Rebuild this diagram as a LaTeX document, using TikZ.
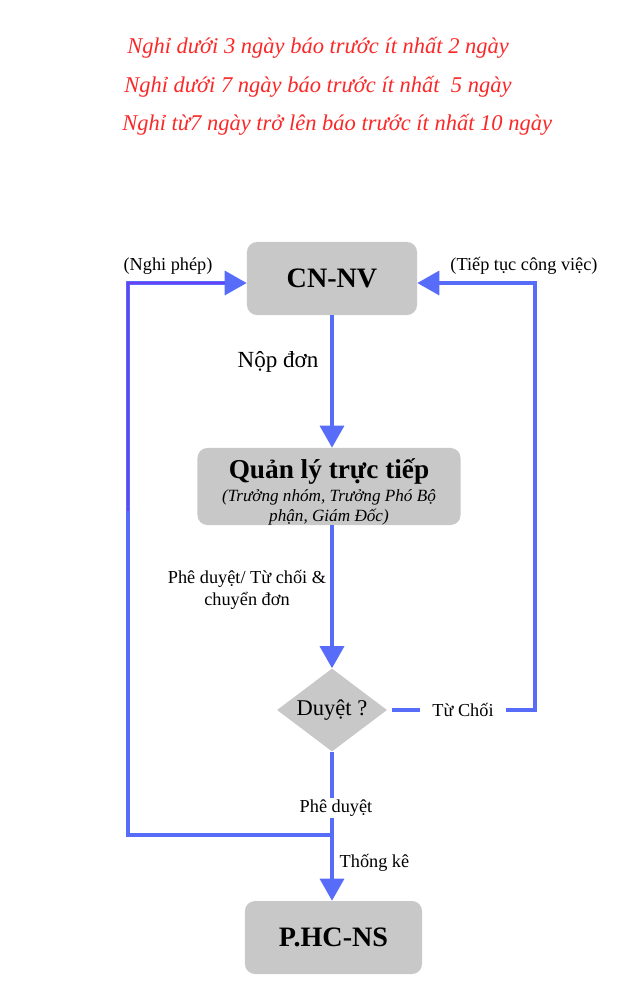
\documentclass[tikz,border=0pt]{standalone}
\usepackage{fontspec}
\setmainfont{Liberation Serif}
\usetikzlibrary{arrows.meta,shapes.geometric}
\definecolor{flowblue}{RGB}{88,108,250}
\definecolor{flowviolet}{RGB}{104,64,246}
\definecolor{boxgray}{RGB}{200,200,200}
\definecolor{notered}{RGB}{250,40,40}
\def\fs#1#2{\fontsize{#1}{#2}\selectfont}
\tikzset{
	box/.style={fill=boxgray, rounded corners=0.25cm, minimum width=4.25cm, minimum height=1.825cm, inner sep=0pt, font=\fs{20pt}{22pt}\bfseries},
	decision/.style={diamond, fill=boxgray, aspect=1.33, minimum width=2.75cm, minimum height=2.075cm, inner sep=0pt, font=\fs{16pt}{18pt}},
	flow/.style={draw=flowblue, line width=2.4pt, -{Triangle[length=5.5mm, width=6mm]}},
	wire/.style={draw=flowblue, line width=2.4pt},
	lbl/.style={font=\fs{13pt}{15.6pt}, inner sep=1pt},
	note/.style={text=notered, font=\fs{16pt}{18pt}\itshape, anchor=base west, inner sep=0pt},
}

\begin{document}
\begin{tikzpicture}[x=0.025cm, y=-0.025cm]
	%%%%% START %%%%%
	\useasboundingbox (0,0) rectangle (642,1000);

	\node[note] (rule1) at (127,53) {Nghỉ dưới 3 ngày báo trước ít nhất 2 ngày};
	\node[note] (rule2) at (124,92) {Nghỉ dưới 7 ngày báo trước ít nhất\ \ 5 ngày};
	\node[note] (rule3) at (122,130) {Nghỉ từ7 ngày trở lên báo trước ít nhất 10 ngày};

	\node[box] (cnnv) at (332,278.5) {CN-NV};
	\node[box, minimum width=6.575cm, align=center, font=\fs{12.2pt}{14.2pt}] (qly) at (329,486.5)
		{{\fs{19.4pt}{14.2pt}\bfseries\rule{0pt}{22pt}Quản lý trực tiếp}\\[1.8pt]
		{\itshape (Trưởng nhóm, Trưởng Phó Bộ}\\
		{\itshape phận, Giám Đốc)}};
	\node[decision] (chk) at (332,710) {Duyệt ?};
	\node[box, minimum width=4.425cm] (hcns) at (333.5,937.5) {P.HC-NS};

	\coordinate (join) at (332,835);
	\coordinate (lefttop) at (128,283);
	\coordinate (leftmid) at (128,511);
	\coordinate (righttop) at (535,283);

	% main line
	\draw[flow] (cnnv.south) -- (cnnv.south |- qly.north);
	\draw[flow] (chk.north |- qly.south) -- (chk.north);
	\draw[wire] (chk.south) -- (join);
	\draw[flow] (join) -- (join |- hcns.north);

	% loops back to CN-NV
	\draw[flow] (join) -- (join -| lefttop) -- (lefttop) -- (lefttop -| cnnv.west);
	\draw[draw=flowviolet, line width=2pt] (leftmid) -- (lefttop) -- (225,283);
	\draw[flow] ([xshift=0.12cm]chk.east) -- (chk.east -| righttop) -- (righttop) -- (righttop -| cnnv.east);

	\node[lbl, font=\fs{16.4pt}{18pt}] (nopdon) at (278,362) {Nộp đơn};
	\node[lbl, align=center] (chuyen) at (247,590) {Phê duyệt/ Từ chối \&\\chuyển đơn};
	\node[lbl, fill=white, inner xsep=0.3cm] (tuchoi) at (463,710) {Từ Chối};
	\node[lbl, fill=white] (pheduyet) at (336,808) {Phê duyệt};
	\node[lbl, anchor=west] (thongke) at (338,863) {Thống kê};
	\node[lbl] (nghiphep) at (168,266) {(Nghi phép)};
	\node[lbl] (tieptuc) at (524,266) {(Tiếp tục công việc)};

	%%%%% END %%%%%
\end{tikzpicture}
\end{document}
